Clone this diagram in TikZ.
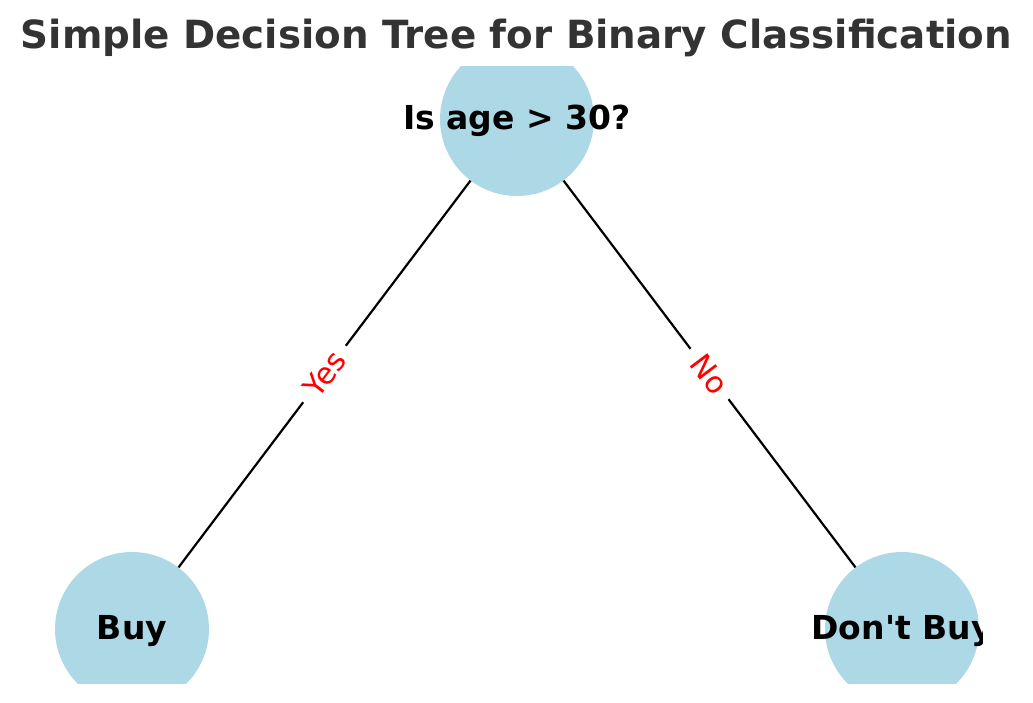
\documentclass[tikz,border=0pt]{standalone}
\usepackage{fontspec}
\newfontfamily\dejavu{DejaVu Sans}
\definecolor{nodeblue}{HTML}{ADD8E6}
\definecolor{titlegray}{HTML}{333333}
\begin{document}
\begin{tikzpicture}[x=1pt,y=-1pt,
  treenode/.style={circle,fill=nodeblue,draw=none,minimum size=154pt,inner sep=0pt},
  nodetext/.style={anchor=base,inner sep=0pt,font=\dejavu\fontsize{33}{36}\selectfont\bfseries,text=black},
  edgeline/.style={line width=2.2pt,black},
  edgelabel/.style={sloped,midway,fill=white,text=red,font=\dejavu\fontsize{30}{34}\selectfont,inner xsep=11pt,inner ysep=6pt,rounded corners=6pt}
]
\useasboundingbox (0,0) rectangle (1033,702);
\node[anchor=base,inner sep=0pt,text=titlegray,font=\dejavu\fontsize{38.8}{44}\selectfont\bfseries] (title) at (516.5,48) {Simple Decision Tree for Binary Classification};
\begin{scope}
\clip (52,66) rectangle (982,683);
\node[treenode] (root) at (517,119) {};
\node[treenode] (buy) at (132,629) {};
\node[treenode] (nobuy) at (902,629) {};
\node[nodetext] (roottext) at (517,129.3) {Is age > 30?};
\node[nodetext] (buytext) at (132,639.3) {Buy};
\node[nodetext] (nobuytext) at (902,639.3) {Don't Buy};
\draw[edgeline] (root) -- (buy) node[edgelabel] (yes) {Yes};
\draw[edgeline] (root) -- (nobuy) node[edgelabel] (no) {No};
\end{scope}
\end{tikzpicture}
\end{document}
